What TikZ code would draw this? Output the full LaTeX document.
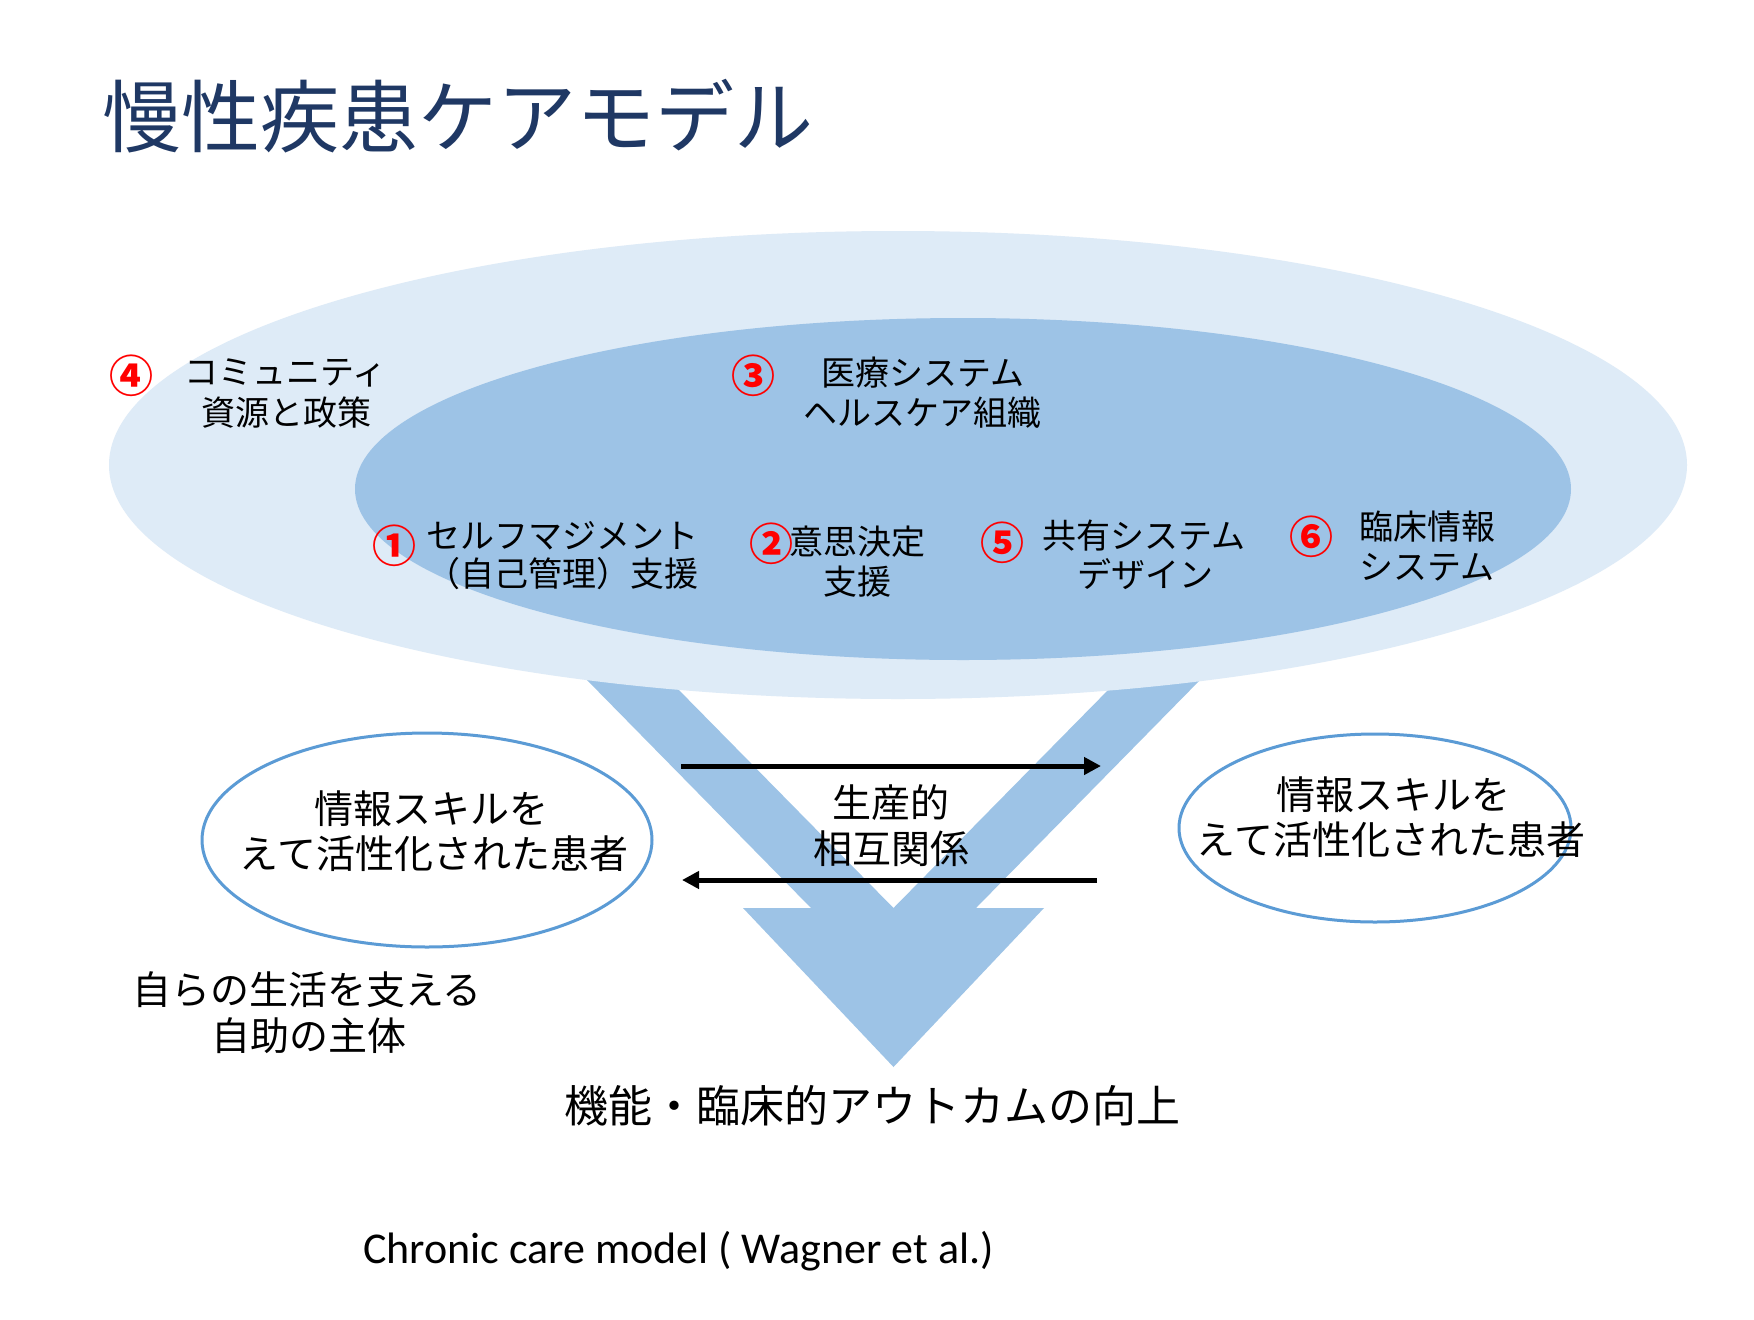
\documentclass[tikz,border=0pt]{standalone}
\usepackage{fontspec}
\setmainfont{Carlito}
\newfontfamily\jp{Noto Sans CJK JP}
\usetikzlibrary{arrows.meta,shapes.geometric}
\definecolor{outerc}{RGB}{222,235,247}
\definecolor{innerc}{RGB}{157,195,230}
\definecolor{ringc}{RGB}{91,155,213}
\definecolor{titlec}{RGB}{31,56,100}
\definecolor{numc}{RGB}{255,0,0}
\begin{document}
\begin{tikzpicture}[x=1pt,y=-1pt,
  lbl/.style={font=\jp\fontsize{34}{40}\selectfont, inner sep=0pt, anchor=base},
  big/.style={font=\jp\fontsize{39}{46}\selectfont, inner sep=0pt, anchor=base},
  num/.style={font=\jp\bfseries\fontsize{44}{48}\selectfont, text=numc, inner sep=0pt, anchor=center},
  ring/.style={ellipse, draw=ringc, line width=3pt, fill=white, inner sep=0pt},
  flow/.style={line width=5pt, -{Triangle[length=17pt,width=17pt]}}]
\useasboundingbox (0,0) rectangle (1754,1320);
\fill[white] (0,0) rectangle (1754,1320);

% funnel (V with arrowhead)
\fill[innerc] (528,620) -- (811,908) -- (743,908) -- (893.5,1067) -- (1044,908)
  -- (976,908) -- (1259,620) -- (1177,620) -- (893.5,908) -- (610,620) -- cycle;

% ellipses
\fill[outerc] (898,465) ellipse [x radius=789, y radius=234];
\fill[innerc] (963,489) ellipse [x radius=608, y radius=171];

% title
\node[font=\jp\fontsize{79}{90}\selectfont, text=titlec, inner sep=0pt, anchor=base west] (title) at (102,146) {慢性疾患ケアモデル};

% labels in ellipses
\node[num] (n4) at (131,376) {④};
\node[lbl] (l4a) at (285,384) {コミュニティ};
\node[lbl] (l4b) at (286,425) {資源と政策};

\node[num] (n3) at (753,376) {③};
\node[lbl] (l3a) at (923,385) {医療システム};
\node[lbl] (l3b) at (922,425) {ヘルスケア組織};

\node[num] (n1) at (394,546) {①};
\node[lbl] (l1a) at (562,548) {セルフマジメント};
\node[lbl] (l1b) at (562,586) {（自己管理）支援};

\node[num] (n2) at (771,544) {②};
\node[lbl] (l2a) at (857,554) {意思決定};
\node[lbl] (l2b) at (857,594) {支援};

\node[num] (n5) at (1002,543) {⑤};
\node[lbl] (l5a) at (1144,548) {共有システム};
\node[lbl] (l5b) at (1145,587) {デザイン};

\node[num] (n6) at (1311,537) {⑥};
\node[lbl] (l6a) at (1427,539) {臨床情報};
\node[lbl] (l6b) at (1427,579) {システム};

% patient ellipses
\node[ring, minimum width=450pt, minimum height=214pt] (pl) at (427,840) {};
\node[ring, minimum width=392pt, minimum height=188pt] (pr) at (1375,828) {};

\node[big] (pla) at (431,823) {情報スキルを};
\node[big] (plb) at (434,868) {えて活性化された患者};
\node[big] (pra) at (1393,809) {情報スキルを};
\node[big] (prb) at (1391,854) {えて活性化された患者};

% interaction arrows
\coordinate (a1s) at (681,766);
\coordinate (a1e) at (1101,766);
\coordinate (a2s) at (1097,880);
\coordinate (a2e) at (682,880);
\draw[flow] (a1s) -- (a1e);
\draw[flow] (a2s) -- (a2e);
\node[big] (ma) at (891,817) {生産的};
\node[big] (mb) at (891,863) {相互関係};

% self-help
\node[big] (sa) at (307,1004) {自らの生活を支える};
\node[big] (sb) at (309,1050) {自助の主体};

% outcome
\node[font=\jp\fontsize{44}{50}\selectfont, inner sep=0pt, anchor=base] (out) at (872,1122) {機能・臨床的アウトカムの向上};

% citation
\node[font=\fontsize{44}{50}\selectfont, inner sep=0pt, anchor=base west] (cite) at (363,1263) {Chronic care model ( Wagner et al.)};
\end{tikzpicture}
\end{document}
